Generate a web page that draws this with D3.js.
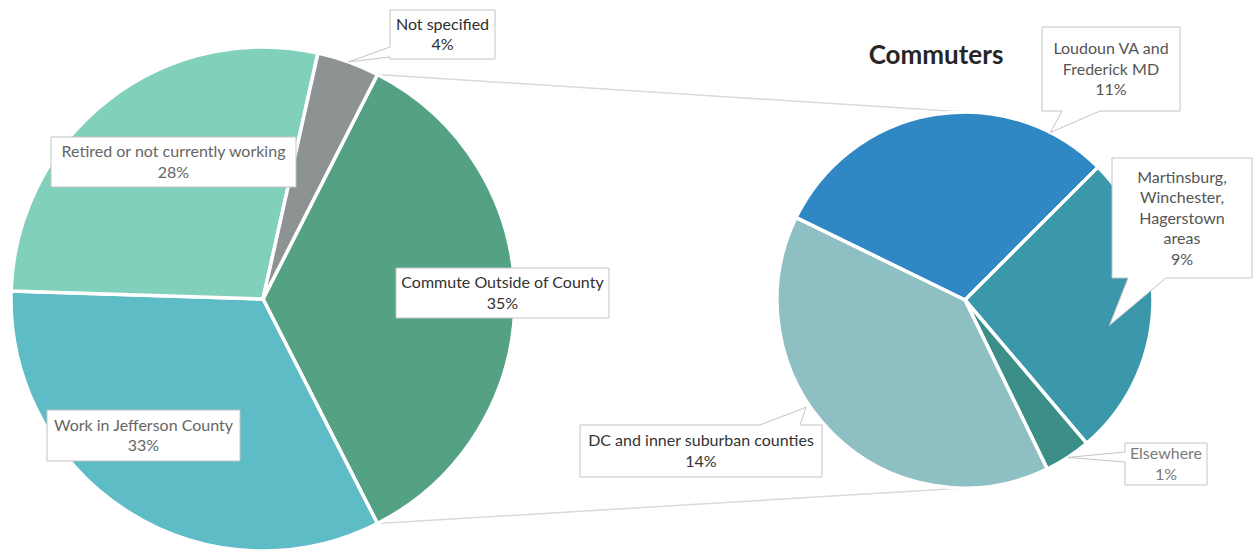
<!DOCTYPE html>
<html>
<head>
<meta charset="utf-8">
<script src="https://cdn.jsdelivr.net/npm/d3@7"></script>
<style>
  body { margin: 0; background: #fff; }
  svg { display: block; font-family: Lato, "Open Sans", sans-serif; }
</style>
</head>
<body>
<svg></svg>
<script>
// size of the picture
var WIDTH = 1256;
var HEIGHT = 552;

// main pie: where people work (percent of respondents)
const mainCategories = ['Commute Outside of County', 'Work in Jefferson County', 'Retired or not currently working', 'Not specified'];
const mainValues = [35, 33, 28, 4];
const mainColors = ['#54a283', '#5dbcc5', '#80d0bb', '#8d9392'];

// second pie: where the commuters go (same percent base)
const commuterCategories = ['Loudoun VA and Frederick MD', 'Martinsburg, Winchester, Hagerstown areas', 'Elsewhere', 'DC and inner suburban counties'];
const commuterValues = [10.6, 9.2, 1.4, 13.8];
const commuterColors = ['#2f88c4', '#3b97aa', '#3c8f89', '#8ebfc3'];

const commuterTitle = 'Commuters';

// geometry of the two pies
var left = { cx: 263, cy: 299, r: 252 };
var right = { cx: 965, cy: 300, r: 188 };

// label boxes (layout only): box = [x, y, w, h], optional pointer
var mainLabels = {
  'Commute Outside of County': { box: [396, 268, 213, 50], lines: ['Commute Outside of County'], color: '#333333' },
  'Work in Jefferson County': { box: [47, 410, 193, 51], lines: ['Work in Jefferson County'], color: '#666666' },
  'Retired or not currently working': { box: [51, 137, 245, 50], lines: ['Retired or not currently working'], color: '#666666' },
  'Not specified': { box: [390, 10, 105, 49], lines: ['Not specified'], color: '#2e2e2e',
                     side: 'left', base: [47, 57], tipAngle: null, tipR: 1.0 }
};
var commuterLabels = {
  'Loudoun VA and Frederick MD': { box: [1042, 27, 138, 84], lines: ['Loudoun VA and', 'Frederick MD'], color: '#555555',
                                   side: 'bottom', base: [1062, 1100], tipAngle: 27, tipR: 1.0 },
  'Martinsburg, Winchester, Hagerstown areas': { box: [1112, 158, 140, 120], lines: ['Martinsburg,', 'Winchester,', 'Hagerstown', 'areas'], color: '#555555',
                                   side: 'bottom', base: [1128, 1166], tipAngle: 100, tipR: 0.78 },
  'Elsewhere': { box: [1125, 443, 82, 42], lines: ['Elsewhere'], color: '#7a7a7a',
                 side: 'left', base: [452, 462], tipAngle: null, tipR: 1.0 },
  'DC and inner suburban counties': { box: [580, 425, 242, 52], lines: ['DC and inner suburban counties'], color: '#333333',
                 side: 'top', base: [760, 800], tipAngle: 236, tipR: 1.02 }
};

const svg = d3.select('svg')
    .attr('width', WIDTH)
    .attr('height', HEIGHT);

var rad = Math.PI / 180;

// the commute slice sits centred on the right side of the main pie
var mainTotal = d3.sum(mainValues);
var mainStart = Math.PI / 2 - (mainValues[0] / mainTotal) * Math.PI;

var mainPie = d3.pie().sort(null).value(d => d.value)
    .startAngle(mainStart).endAngle(mainStart + 2 * Math.PI);
var mainData = mainPie(mainCategories.map((c, i) => ({ key: c, value: mainValues[i], color: mainColors[i] })));

var commuterStart = -64 * rad;
var commuterPie = d3.pie().sort(null).value(d => d.value)
    .startAngle(commuterStart).endAngle(commuterStart + 2 * Math.PI);
var commuterData = commuterPie(commuterCategories.map((c, i) => ({ key: c, value: commuterValues[i], color: commuterColors[i] })));

var mainArc = d3.arc().innerRadius(0).outerRadius(left.r);
var commuterArc = d3.arc().innerRadius(0).outerRadius(right.r);

// point on a pie for an angle (d3 convention: 0 = up, clockwise)
function polar(p, a, r) {
  return [p.cx + r * Math.sin(a), p.cy - r * Math.cos(a)];
}

// connector lines from the commute slice to the second pie
var commuteSlice = mainData[0];
var connectors = [
  [polar(left, commuteSlice.startAngle, left.r), [right.cx, right.cy - right.r]],
  [polar(left, commuteSlice.endAngle, left.r), [right.cx, right.cy + right.r]]
];
svg.append('g').selectAll('line')
  .data(connectors)
  .enter()
  .append('line')
  .attr('x1', d => d[0][0]).attr('y1', d => d[0][1])
  .attr('x2', d => d[1][0]).attr('y2', d => d[1][1])
  .attr('stroke', '#dadada')
  .attr('stroke-width', 1.5);

// the two pies
var gLeft = svg.append('g').attr('transform', 'translate(' + left.cx + ',' + left.cy + ')');
gLeft.selectAll('path')
  .data(mainData)
  .enter()
  .append('path')
  .attr('d', mainArc)
  .attr('fill', d => d.data.color)
  .attr('stroke', '#fff')
  .attr('stroke-width', 3.5)
  .attr('stroke-linejoin', 'round');

var gRight = svg.append('g').attr('transform', 'translate(' + right.cx + ',' + right.cy + ')');
gRight.selectAll('path')
  .data(commuterData)
  .enter()
  .append('path')
  .attr('d', commuterArc)
  .attr('fill', d => d.data.color)
  .attr('stroke', '#fff')
  .attr('stroke-width', 3.5)
  .attr('stroke-linejoin', 'round');

// title of the second pie
svg.append('text')
  .attr('x', 936)
  .attr('y', 64)
  .attr('text-anchor', 'middle')
  .style('font-size', '26px')
  .style('font-weight', 'bold')
  .style('fill', '#262626')
  .text(commuterTitle);

// callout box path with an optional pointer on one side
function calloutPath(b, lab, tip) {
  var x = b[0], y = b[1], w = b[2], h = b[3];
  var s = lab.side, p = lab.base;
  var path = 'M' + x + ',' + y;
  if (s === 'top') path += 'L' + p[0] + ',' + y + 'L' + tip + 'L' + p[1] + ',' + y;
  path += 'L' + (x + w) + ',' + y;
  if (s === 'right') path += 'L' + (x + w) + ',' + p[0] + 'L' + tip + 'L' + (x + w) + ',' + p[1];
  path += 'L' + (x + w) + ',' + (y + h);
  if (s === 'bottom') path += 'L' + p[1] + ',' + (y + h) + 'L' + tip + 'L' + p[0] + ',' + (y + h);
  path += 'L' + x + ',' + (y + h);
  if (s === 'left') path += 'L' + x + ',' + p[1] + 'L' + tip + 'L' + x + ',' + p[0];
  return path + 'Z';
}

function drawLabels(data, pie, layout) {
  var g = svg.append('g');
  data.forEach(d => {
    var lab = layout[d.data.key];
    var b = lab.box;
    var tip = null;
    if (lab.side) {
      var a = lab.tipAngle === null ? (d.startAngle + d.endAngle) / 2 : lab.tipAngle * rad;
      tip = polar(pie, a, pie.r * lab.tipR);
    }
    g.append('path')
      .attr('d', calloutPath(b, lab, tip))
      .attr('fill', '#fff')
      .attr('stroke', '#c4c4c4')
      .attr('stroke-width', 1);
    var lines = lab.lines.concat([Math.round(d.data.value) + '%']);
    var lh = 20.5;
    var top = b[1] + b[3] / 2 - (lines.length - 1) * lh / 2;
    var t = g.append('text')
      .attr('text-anchor', 'middle')
      .style('font-size', '16px')
      .style('fill', lab.color);
    lines.forEach((l, i) => {
      t.append('tspan')
        .attr('x', b[0] + b[2] / 2)
        .attr('y', top + i * lh)
        .attr('dy', '0.35em')
        .text(l);
    });
  });
}

drawLabels(mainData, left, mainLabels);
drawLabels(commuterData, right, commuterLabels);
</script>
</body>
</html>
